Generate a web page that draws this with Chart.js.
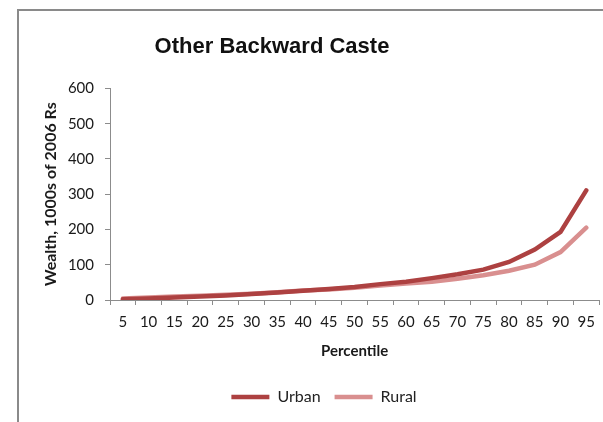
<!DOCTYPE html>
<html>
<head>
<meta charset="utf-8">
<script src="https://cdn.jsdelivr.net/npm/chart.js@4.4.1/dist/chart.umd.min.js"></script>
<style>
    html, body { margin: 0; padding: 0; background: #fff; }
    #wrap { width: 603px; height: 422px; position: relative; }
</style>
</head>
<body>
<div id="wrap"><canvas id="wealthChart"></canvas></div>
<script>
// Data
const percentiles = ["5", "10", "15", "20", "25", "30", "35", "40", "45", "50",
    "55", "60", "65", "70", "75", "80", "85", "90", "95"];
const urban = [2, 4, 7, 10, 13, 17, 21, 26, 31, 37, 45, 52, 62, 73, 86, 108, 143, 193, 311];
const rural = [4, 7, 10, 12, 15, 18, 22, 27, 30, 35, 41, 47, 52, 60, 70, 83, 100, 136, 205];
const yTicks = [0, 100, 200, 300, 400, 500, 600];

const axisGrey = "#8c8c8c";
const textFont = "Lato, 'Open Sans', sans-serif";

// grey frame round the chart (top and left edges show)
const framePlugin = {
    id: "frame",
    beforeDraw(chart) {
        const ctx = chart.ctx;
        ctx.save();
        ctx.strokeStyle = "#8a8a8a";
        ctx.lineWidth = 2;
        ctx.beginPath();
        ctx.moveTo(18, 422);
        ctx.lineTo(18, 10);
        ctx.lineTo(603, 10);
        ctx.stroke();
        ctx.restore();
    },
    afterLayout(chart) {
        // shift the title a little left like in the original
        if (chart.titleBlock) {
            chart.titleBlock.left = 18;
            chart.titleBlock.right = 526;
        }
        if (chart.legend) {
            chart.legend.left += 8;
            chart.legend.right += 8;
        }
    }
};

const ctx = document.getElementById("wealthChart").getContext("2d");
new Chart(ctx, {
    type: "line",
    data: {
        labels: percentiles,
        datasets: [
            {
                label: "Urban",
                data: urban,
                borderColor: "#ad4141",
                backgroundColor: "#ad4141",
                borderWidth: 4.5,
                borderCapStyle: "round",
                pointRadius: 0,
                tension: 0,
            },
            {
                label: "Rural",
                data: rural,
                borderColor: "#d98f8f",
                backgroundColor: "#d98f8f",
                borderWidth: 4.5,
                borderCapStyle: "round",
                pointRadius: 0,
                tension: 0,
            },
        ],
    },
    options: {
        responsive: true,
        maintainAspectRatio: false,
        animation: false,
        layout: { padding: { left: 30, right: 1, top: 0, bottom: 7 } },
        plugins: {
            title: {
                display: true,
                text: "Other Backward Caste",
                color: "#111",
                font: { family: "'Liberation Sans', Arial, sans-serif", size: 22, weight: "bold" },
                padding: { top: 34, bottom: 28 },
            },
            legend: {
                position: "bottom",
                labels: {
                    usePointStyle: true,
                    pointStyle: "line",
                    pointStyleWidth: 38,
                    color: "#222",
                    font: { family: textFont, size: 16 },
                    padding: 14,
                },
            },
            tooltip: { enabled: false },
        },
        scales: {
            x: {
                offset: true,
                afterFit(scale) {
                    scale.height = 75;
                },
                grid: {
                    offset: true,
                    drawOnChartArea: false,
                    drawTicks: true,
                    tickLength: 5,
                    color: axisGrey,
                },
                border: { color: axisGrey, width: 1 },
                ticks: {
                    color: "#1a1a1a",
                    font: { family: textFont, size: 15 },
                    padding: 8,
                    maxRotation: 0,
                    autoSkip: false,
                },
                title: {
                    display: true,
                    text: "Percentile",
                    color: "#1a1a1a",
                    font: { family: textFont, size: 15, weight: "bold" },
                    padding: { top: 0, bottom: 15 },
                },
            },
            y: {
                min: 0,
                max: 600,
                afterBuildTicks(scale) {
                    scale.ticks = yTicks.map(v => ({ value: v }));
                },
                afterFit(scale) {
                    scale.width = 80;
                },
                grid: {
                    drawOnChartArea: false,
                    drawTicks: true,
                    tickLength: 5,
                    color: axisGrey,
                },
                border: { color: axisGrey, width: 1 },
                ticks: {
                    color: "#1a1a1a",
                    font: { family: textFont, size: 15 },
                    padding: 11,
                },
                title: {
                    display: true,
                    text: "Wealth, 1000s of 2006 Rs",
                    color: "#1a1a1a",
                    font: { family: textFont, size: 16, weight: "bold" },
                    padding: { top: 11, bottom: 0 },
                },
            },
        },
    },
    plugins: [framePlugin],
});
</script>
</body>
</html>
